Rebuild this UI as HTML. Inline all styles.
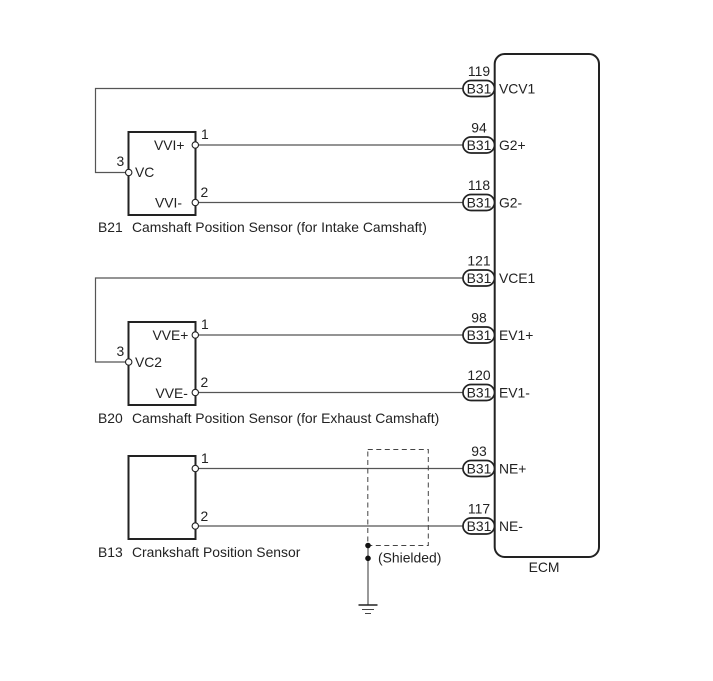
<!DOCTYPE html>
<html><head><meta charset="utf-8"><style>
html,body{margin:0;padding:0;background:#fff}
svg{display:block}
text{font-family:"Liberation Sans",Arial,sans-serif;font-size:13.9px;fill:#222}
.w{stroke:#555;stroke-width:1.2;fill:none}
.b{stroke:#222;stroke-width:2;fill:none}
.c{stroke:#222;stroke-width:1.1;fill:#fff}
.p{stroke:#222;stroke-width:1.7;fill:#fff}
</style></head><body>
<svg width="713" height="681" viewBox="0 0 713 681" xmlns="http://www.w3.org/2000/svg">
<rect width="713" height="681" fill="#fff"/>
<!-- wires -->
<path class="w" d="M463 88.500H95.500V172.500H128"/>
<path class="w" d="M195 145H463M195 202.500H463"/>
<path class="w" d="M463 278H95.500V362H128"/>
<path class="w" d="M195 335H463M195 392.500H463"/>
<path class="w" d="M195 468.500H463M195 526H463"/>
<!-- boxes -->
<rect class="b" x="128.500" y="132" width="67" height="83"/>
<rect class="b" x="128.500" y="322" width="67" height="83"/>
<rect class="b" x="128.500" y="456" width="67" height="83"/>
<path class="b" d="M494.700 64a10 10 0 0 1 10-10H589a10 10 0 0 1 10 10V547a10 10 0 0 1-10 10H504.700a10 10 0 0 1-10-10Z"/>
<!-- terminals -->
<g class="c">
<circle cx="195.300" cy="145" r="3.200"/><circle cx="195.300" cy="202.500" r="3.200"/><circle cx="128.700" cy="172.500" r="3.200"/>
<circle cx="195.300" cy="335" r="3.200"/><circle cx="195.300" cy="392.500" r="3.200"/><circle cx="128.700" cy="362" r="3.200"/>
<circle cx="195.300" cy="468.500" r="3.200"/><circle cx="195.300" cy="526" r="3.200"/>
</g>
<!-- pills -->
<g class="p">
<rect x="463" y="80.500" width="31.500" height="16" rx="8"/>
<rect x="463" y="137" width="31.500" height="16" rx="8"/>
<rect x="463" y="194.500" width="31.500" height="16" rx="8"/>
<rect x="463" y="270" width="31.500" height="16" rx="8"/>
<rect x="463" y="327" width="31.500" height="16" rx="8"/>
<rect x="463" y="384.500" width="31.500" height="16" rx="8"/>
<rect x="463" y="460.500" width="31.500" height="16" rx="8"/>
<rect x="463" y="518" width="31.500" height="16" rx="8"/>
</g>
<!-- shield -->
<rect x="367.800" y="449.500" width="60.500" height="96" fill="none" stroke="#444" stroke-width="1" stroke-dasharray="5 3.500"/>
<path d="M368 545.500V605" stroke="#555" stroke-width="1.2" fill="none"/>
<circle cx="368" cy="545.500" r="2.800" fill="#111"/>
<circle cx="368" cy="558.300" r="2.800" fill="#111"/>
<path d="M358.500 605H377.500" stroke="#222" stroke-width="1.500"/>
<path d="M362 609.500H374" stroke="#444" stroke-width="1"/>
<path d="M365 613.500H371" stroke="#444" stroke-width="1"/>
<!-- pill labels -->
<g text-anchor="middle">
<text x="479" y="93.500">B31</text><text x="479" y="150">B31</text><text x="479" y="207.500">B31</text>
<text x="479" y="283">B31</text><text x="479" y="340">B31</text><text x="479" y="397.500">B31</text>
<text x="479" y="473.500">B31</text><text x="479" y="531">B31</text>
<text x="479" y="76">119</text><text x="479" y="132.500">94</text><text x="479" y="190">118</text>
<text x="479" y="265.500">121</text><text x="479" y="322.500">98</text><text x="479" y="380">120</text>
<text x="479" y="456">93</text><text x="479" y="513.500">117</text>
<text x="544" y="572">ECM</text>
</g>
<!-- ECM pins -->
<text x="499" y="93.500">VCV1</text><text x="499" y="150">G2+</text><text x="499" y="207.500">G2-</text>
<text x="499" y="283">VCE1</text><text x="499" y="340">EV1+</text><text x="499" y="397.500">EV1-</text>
<text x="499" y="473.500">NE+</text><text x="499" y="531">NE-</text>
<!-- sensor pins -->
<text x="201" y="139">1</text><text x="200.500" y="197">2</text><text x="116.500" y="166">3</text>
<text x="201" y="329">1</text><text x="200.500" y="387">2</text><text x="116.500" y="356">3</text>
<text x="201" y="463">1</text><text x="200.500" y="521">2</text>
<text x="154" y="150">VVI+</text><text x="155" y="207.500">VVI-</text><text x="135" y="177">VC</text>
<text x="152.500" y="340">VVE+</text><text x="155.500" y="398">VVE-</text><text x="135" y="367">VC2</text>
<!-- captions -->
<text x="98" y="232">B21</text><text x="132" y="232">Camshaft Position Sensor (for Intake Camshaft)</text>
<text x="98" y="423">B20</text><text x="132" y="423">Camshaft Position Sensor (for Exhaust Camshaft)</text>
<text x="98" y="557">B13</text><text x="132" y="557">Crankshaft Position Sensor</text>
<text x="378" y="562.500">(Shielded)</text>
</svg>
</body></html>
